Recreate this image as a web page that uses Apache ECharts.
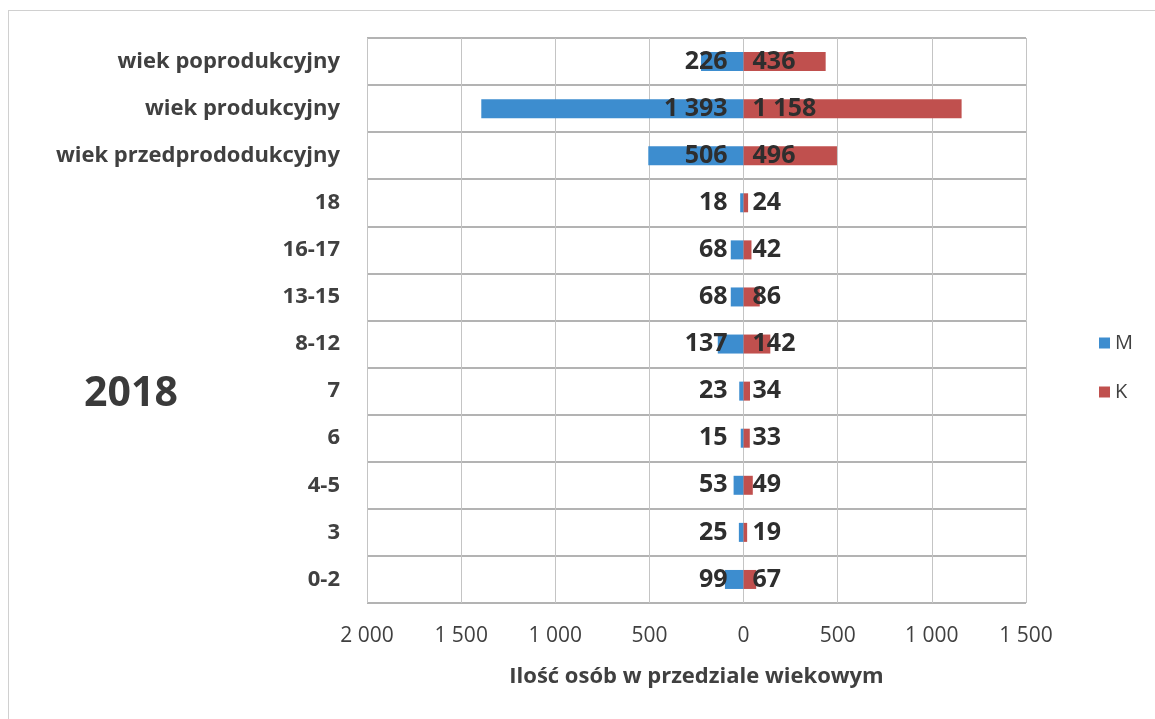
<!DOCTYPE html>
<html>
<head>
<meta charset="utf-8">
<script src="https://cdn.jsdelivr.net/npm/echarts@6/dist/echarts.min.js"></script>
<style>
html,body{margin:0;padding:0;background:#fff;}
#frame{position:absolute;left:8px;top:10px;width:1160px;height:720px;border:1px solid #d0d0d0;box-sizing:border-box;}
#c{position:absolute;left:0;top:0;width:1155px;height:719px;}
</style>
</head>
<body>
<div id="frame"></div>
<div id="c"></div>
<script>
const categories = ['0-2','3','4-5','6','7','8-12','13-15','16-17','18','wiek przedprododukcyjny','wiek produkcyjny','wiek poprodukcyjny'];
const menValues = [99,25,53,15,23,137,68,68,18,506,1393,226];
const womenValues = [67,19,49,33,34,142,86,42,24,496,1158,436];
const tickValues = [-2000,-1500,-1000,-500,0,500,1000,1500];

function fmt(v){
  const s = String(Math.abs(Math.round(v)));
  return s.replace(/\B(?=(\d{3})+(?!\d))/g, ' ');
}
const chart = echarts.init(document.getElementById('c'));
const font = '"Open Sans", sans-serif';
chart.setOption({
  backgroundColor: 'transparent',
  animation: false,
  textStyle: {fontFamily: font},
  title: {
    text: '2018', left: 126, top: 389, textAlign: 'center', textVerticalAlign: 'middle',
    textStyle: {fontFamily: font, fontSize: 41, fontWeight: 'bold', color: '#3a3a3a'}
  },
  legend: {
    orient: 'vertical', left: 1094, top: 328, itemGap: 29,
    itemWidth: 11, itemHeight: 11, icon: 'rect',
    textStyle: {fontFamily: font, fontSize: 20, color: '#404040'},
    data: ['M','K']
  },
  grid: {left: 367, right: 129, top: 38, bottom: 116, containLabel: false},
  xAxis: {
    type: 'value', min: -2000, max: 1500, interval: 500,
    axisLine: {show: false}, axisTick: {show: false},
    axisLabel: {margin: 23, fontSize: 21, color: '#404040', fontFamily: font, formatter: v => fmt(v)},
    splitLine: {show: true, lineStyle: {color: '#c4c4c4', width: 1}},
    name: 'Ilość osób w przedziale wiekowym', nameLocation: 'middle', nameGap: 63,
    nameTextStyle: {fontSize: 22, fontWeight: 'bold', color: '#404040', fontFamily: font}
  },
  yAxis: {
    type: 'category', data: categories, boundaryGap: true,
    axisLine: {show: false}, axisTick: {show: false},
    axisLabel: {margin: 27, fontSize: 22, fontWeight: 'bold', color: '#404040', fontFamily: font},
    splitLine: {show: true, lineStyle: {color: '#9a9a9a', width: 1.5}}
  },
  series: [
    {
      name: 'M', type: 'bar', data: menValues.map(v => -v), barWidth: 19, barGap: '-100%',
      itemStyle: {color: '#3d8dcf'},
      label: {show: true, position: 'insideRight', distance: 16, fontSize: 25, fontWeight: 'bold', color: '#2e2e2e', fontFamily: font, formatter: p => fmt(p.value)}
    },
    {
      name: 'K', type: 'bar', data: womenValues, barWidth: 19,
      itemStyle: {color: '#c0504e'},
      label: {show: true, position: 'insideLeft', distance: 9, fontSize: 25, fontWeight: 'bold', color: '#2e2e2e', fontFamily: font, formatter: p => fmt(p.value)}
    }
  ]
});
</script>
</body>
</html>
